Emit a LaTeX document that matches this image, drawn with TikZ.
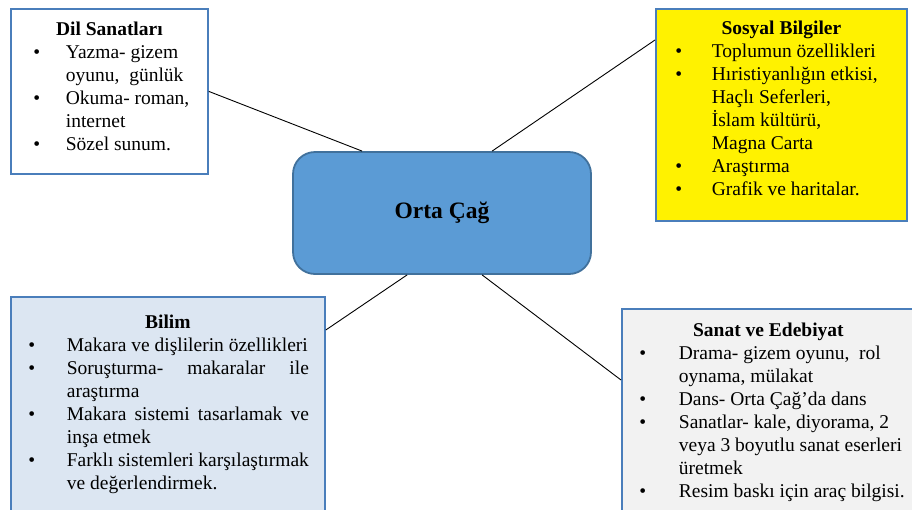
\documentclass[tikz,border=0pt]{standalone}
\usepackage{fontspec}
\setmainfont{Liberation Serif}
\usetikzlibrary{positioning}

\definecolor{kenarmavi}{HTML}{4A7EBB}
\definecolor{ortamavi}{HTML}{5B9BD5}
\definecolor{ortakenar}{HTML}{41719C}
\definecolor{acikmavi}{HTML}{DCE6F2}
\definecolor{acikgri}{HTML}{F2F2F2}

% madde listesi: #1 = etiket ile metin arasi, #2 = sol bosluk, #3 = sag bosluk
\newenvironment{maddeler}[3]{%
  \begin{list}{\makebox[8pt]{\textbullet}}{%
    \setlength{\leftmargin}{#2}\setlength{\rightmargin}{#3}%
    \setlength{\labelwidth}{8pt}\setlength{\labelsep}{#1}%
    \setlength{\topsep}{0pt}\setlength{\partopsep}{0pt}%
    \setlength{\itemsep}{0pt}\setlength{\parsep}{0pt}}}%
  {\end{list}}
\newcommand{\baslik}[2]{{\centering\bfseries\rule{0pt}{#1}#2\par}}

\begin{document}
\begin{tikzpicture}[x=1pt,y=-1pt,
    konu/.style={draw=kenarmavi,line width=1.8pt,inner sep=0pt,anchor=north west,
      font=\fontsize{19.5}{23}\selectfont},
    merkez/.style={draw=ortakenar,fill=ortamavi,line width=1.8pt,rounded corners=22pt,
      minimum width=298pt,minimum height=122pt,font=\fontsize{23.5}{28}\selectfont\bfseries},
    baglanti/.style={black,line width=0.9pt}]
  \useasboundingbox (0,0) rectangle (912,509);
  \clip (0,0) rectangle (912,509);

  \node[merkez] (orta) at (442,213) {Orta Çağ};

  \node[konu,fill=white] (dil) at (10,8) {\parbox[c][165pt][t]{197pt}{%
    \baslik{27pt}{Dil Sanatları}
    \raggedright
    \begin{maddeler}{25pt}{55pt}{2pt}
      \item Yazma- gizem\newline oyunu,\ \ günlük
      \item Okuma- roman,\newline internet
      \item Sözel sunum.
    \end{maddeler}}};

  \node[konu,fill=yellow] (sosyal) at (655,8) {\parbox[c][212pt][t]{251pt}{%
    \baslik{26pt}{Sosyal Bilgiler}
    \raggedright
    \begin{maddeler}{29pt}{56pt}{2pt}
      \item Toplumun özellikleri
      \item Hıristiyanlığın etkisi,\newline Haçlı Seferleri,\newline İslam kültürü,\newline Magna Carta
      \item Araştırma
      \item Grafik ve haritalar.
    \end{maddeler}}};

  \node[konu,fill=acikmavi] (bilim) at (10,296) {\parbox[c][240pt][t]{314pt}{%
    \baslik{32pt}{Bilim}
    \begin{maddeler}{31pt}{56pt}{16pt}
      \item Makara ve dişlilerin özellikleri
      \item Soruşturma- makaralar ile\linebreak araştırma
      \item Makara sistemi tasarlamak ve\linebreak inşa etmek
      \item Farklı sistemleri karşılaştırmak\linebreak ve değerlendirmek.
    \end{maddeler}}};

  \node[konu,fill=acikgri] (sanat) at (621,308) {\parbox[c][230pt][t]{293pt}{%
    \baslik{28pt}{Sanat ve Edebiyat}
    \raggedright
    \begin{maddeler}{32pt}{57pt}{2pt}
      \item Drama- gizem oyunu,\ \ rol\newline oynama, mülakat
      \item Dans- Orta Çağ’da dans
      \item Sanatlar- kale, diyorama, 2\newline veya 3 boyutlu sanat eserleri\newline üretmek
      \item Resim baskı için araç bilgisi.
    \end{maddeler}}};

  \draw[baglanti] (dil.east) -- ([xshift=70pt]orta.north west);
  \draw[baglanti] ([yshift=-32pt]sosyal.north west) -- ([xshift=200pt]orta.north west);
  \draw[baglanti] ([yshift=-34pt]bilim.north east) -- ([xshift=115pt]orta.south west);
  \draw[baglanti] ([yshift=-72pt]sanat.north west) -- ([xshift=190pt]orta.south west);
\end{tikzpicture}
\end{document}
